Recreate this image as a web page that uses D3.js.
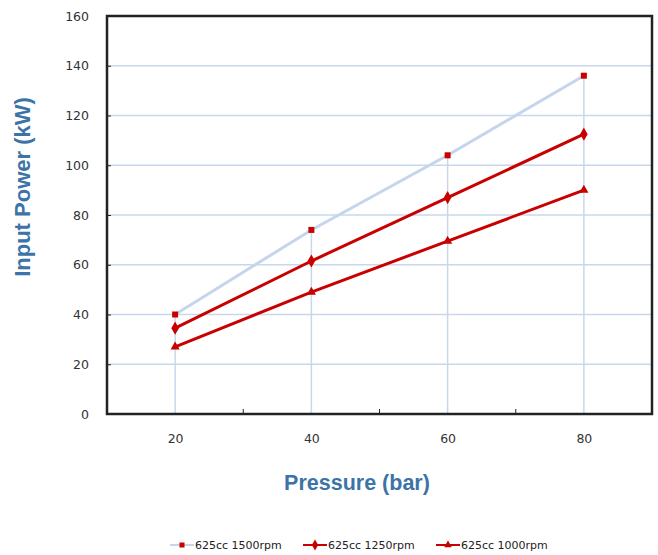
<!DOCTYPE html>
<html><head><meta charset="utf-8">
<script src="https://cdn.jsdelivr.net/npm/d3@7"></script>
<style>body{margin:0;background:#fff}</style>
</head><body>
<svg id="c" width="658" height="555"></svg>
<script>
const pressures = [20, 40, 60, 80];
const seriesNames = ["625cc 1500rpm", "625cc 1250rpm", "625cc 1000rpm"];
const rpm1500 = [40, 74, 104, 136];
const rpm1250 = [34.5, 61.5, 87, 112.5];
const rpm1000 = [27, 49, 69.5, 90];
const yTicks = [0, 20, 40, 60, 80, 100, 120, 140, 160];
const xLabelTicks = [20, 40, 60, 80];
const xMinorTicks = [30, 50, 70];

const svg = d3.select("#c");
const L = 107, R = 652, T = 16, B = 414;
const x = d3.scaleLinear().domain([10, 90]).range([L, R]);
const y = d3.scaleLinear().domain([0, 160]).range([B, T]);

const grid = "#c9d7ec";
// horizontal grid
svg.append("g").selectAll("line").data(yTicks.filter(d => d > 0 && d < 160)).join("line")
  .attr("x1", L).attr("x2", R).attr("y1", d => y(d)).attr("y2", d => y(d))
  .attr("stroke", grid).attr("stroke-width", 1.5);
// drop lines from the top series point down to the axis
const tops = pressures.map((p, i) => Math.max(rpm1500[i], rpm1250[i], rpm1000[i]));
svg.append("g").selectAll("line").data(pressures).join("line")
  .attr("x1", d => x(d)).attr("x2", d => x(d)).attr("y1", (d, i) => y(tops[i])).attr("y2", B)
  .attr("stroke", grid).attr("stroke-width", 1.5);

// axes
const tickFont = "Verdana, DejaVu Sans, sans-serif";
const yAxis = d3.axisLeft(y).tickValues(yTicks).tickSize(4).tickPadding(14);
const gy = svg.append("g").attr("transform", `translate(${L},0)`).call(yAxis);
gy.select(".domain").remove();
gy.selectAll(".tick line").attr("x2", 4).attr("stroke", "#222");
gy.selectAll("text").attr("font-family", tickFont).attr("font-size", 12.5).attr("fill", "#333");

const xAxis = d3.axisBottom(x).tickValues(xLabelTicks).tickSize(0).tickPadding(20);
const gx = svg.append("g").attr("transform", `translate(0,${B})`).call(xAxis);
gx.select(".domain").remove();
gx.selectAll("text").attr("font-family", tickFont).attr("font-size", 12.5).attr("fill", "#333");
svg.append("g").selectAll("line").data(xMinorTicks).join("line")
  .attr("x1", d => x(d)).attr("x2", d => x(d)).attr("y1", B - 5).attr("y2", B)
  .attr("stroke", "#222").attr("stroke-width", 1);

// frame
svg.append("rect").attr("x", L).attr("y", T).attr("width", R - L).attr("height", B - T)
  .attr("fill", "none").attr("stroke", "#222").attr("stroke-width", 2.5);

const red = "#c80000";
const series = [
  {name: seriesNames[0], vals: rpm1500, color: "#c5d6ec", sym: d3.symbolSquare, size: 36},
  {name: seriesNames[1], vals: rpm1250, color: red, sym: d3.symbolDiamond, size: 50},
  {name: seriesNames[2], vals: rpm1000, color: red, sym: d3.symbolTriangle, size: 36}
];
const line = d3.line().x((d, i) => x(pressures[i])).y(d => y(d));
series.forEach(s => {
  svg.append("path").datum(s.vals).attr("d", line).attr("fill", "none")
    .attr("stroke", s.color).attr("stroke-width", 3);
});
series.forEach(s => {
  svg.append("g").selectAll("path").data(s.vals).join("path")
    .attr("d", d3.symbol(s.sym, s.size))
    .attr("transform", (d, i) => `translate(${x(pressures[i])},${y(d)})`)
    .attr("fill", red);
});

// labels
svg.append("text").attr("x", 357).attr("y", 490).attr("text-anchor", "middle")
  .attr("font-family", "Liberation Sans, Arial, sans-serif").attr("font-weight", "bold")
  .attr("font-size", 21.5).attr("fill", "#3c73a8").text("Pressure (bar)");
svg.append("text").attr("transform", "translate(30,187) rotate(-90)").attr("text-anchor", "middle")
  .attr("font-family", "Liberation Sans, Arial, sans-serif").attr("font-weight", "bold")
  .attr("font-size", 22).attr("fill", "#3c73a8").text("Input Power (kW)");

// legend
const lx = [170, 303, 436];
series.forEach((s, i) => {
  const g = svg.append("g").attr("transform", `translate(${lx[i]},545)`);
  g.append("line").attr("x1", 0).attr("x2", 24).attr("stroke", s.color).attr("stroke-width", 2);
  g.append("path").attr("d", d3.symbol(s.sym, s.size * 0.7)).attr("transform", "translate(12,0)").attr("fill", red);
  g.append("text").attr("x", 25).attr("y", 4).attr("font-family", tickFont)
    .attr("font-size", 11).attr("fill", "#222").text(s.name);
});
</script>
</body></html>
